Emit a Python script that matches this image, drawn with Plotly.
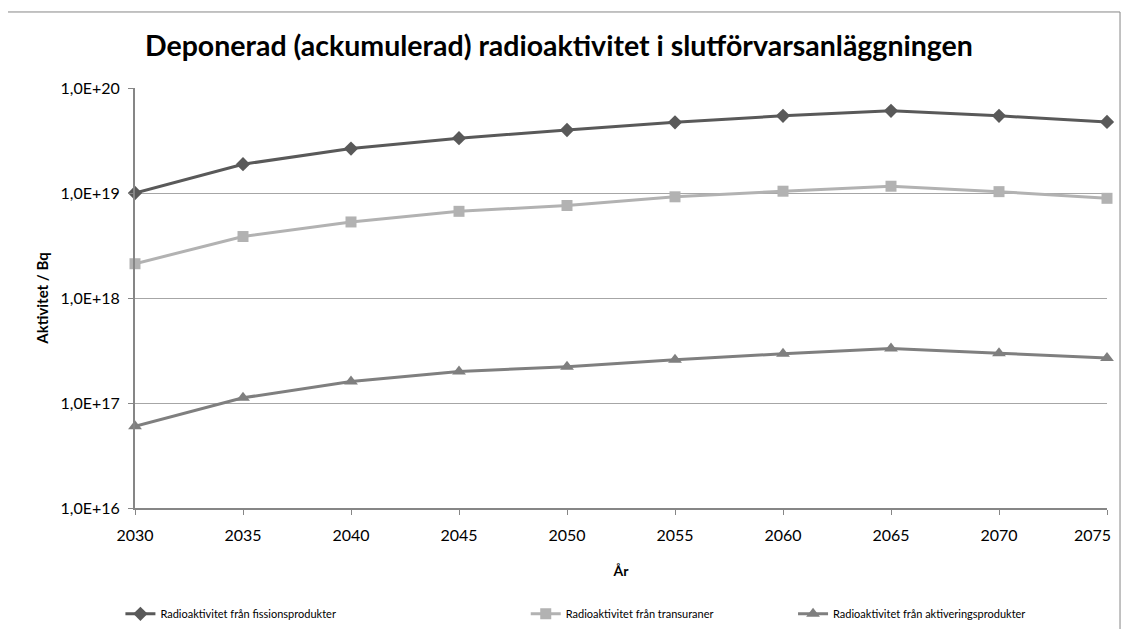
import plotly.graph_objects as go

years = [2030, 2035, 2040, 2045, 2050, 2055, 2060, 2065, 2070, 2075]
fission = [1.0e19, 1.88e19, 2.65e19, 3.33e19, 3.98e19, 4.71e19, 5.43e19, 6.06e19, 5.43e19, 4.75e19]
transuranics = [2.12e18, 3.85e18, 5.3e18, 6.69e18, 7.6e18, 9.2e18, 1.04e19, 1.16e19, 1.03e19, 8.9e18]
activation = [6.0e16, 1.12e17, 1.6e17, 2.0e17, 2.22e17, 2.58e17, 2.94e17, 3.3e17, 2.98e17, 2.69e17]

names = ["Radioaktivitet från fissionsprodukter",
         "Radioaktivitet från transuraner",
         "Radioaktivitet från aktiveringsprodukter"]
ytick_vals = [1e16, 1e17, 1e18, 1e19, 1e20]
ytick_text = ["1,0E+16", "1,0E+17", "1,0E+18", "1,0E+19", "1,0E+20"]

FONT = "Lato, Noto Sans, sans-serif"

fig = go.Figure()
series = [
    (fission, "#595959", "diamond", 11, "legend"),
    (transuranics, "#b2b2b2", "square", 11, "legend2"),
    (activation, "#7f7f7f", "triangle-up", 12, "legend3"),
]
for (vals, col, sym, sz, lg), nm in zip(series, names):
    fig.add_trace(go.Scatter(
        x=years, y=vals, name=nm, mode="lines+markers",
        line=dict(color=col, width=3),
        marker=dict(symbol=sym, size=sz, color=col),
        cliponaxis=False, legend=lg,
    ))

legend_common = dict(orientation="h", yanchor="middle", y=-0.252, xanchor="left",
                     font=dict(family=FONT, size=11, color="#000"),
                     bgcolor="rgba(0,0,0,0)", borderwidth=0)

# the last x label sits at the right edge; draw it right-aligned (as in the reference)
xtick_text = [str(y) for y in years[:-1]] + [""]

fig.update_layout(
    width=1113, height=621,
    margin=dict(l=127, r=14, t=80, b=121, autoexpand=False),
    paper_bgcolor="white", plot_bgcolor="white",
    font=dict(family=FONT, color="#000"),
    title=dict(text="<b>Deponerad (ackumulerad) radioaktivitet i slutförvarsanläggningen</b>",
               x=0.495, xanchor="center", y=0.938, yanchor="middle",
               font=dict(family=FONT, size=28.5, color="#000")),
    showlegend=True,
    legend=dict(x=-0.015, **legend_common),
    legend2=dict(x=0.402, **legend_common),
    legend3=dict(x=0.677, **legend_common),
    xaxis=dict(range=[2030, 2075], tickvals=years, ticktext=xtick_text,
               showgrid=False, zeroline=False, showline=True, linecolor="#868686", linewidth=2,
               ticks="outside", ticklen=5, tickcolor="#868686", ticklabelstandoff=7,
               ticklabeloverflow="allow",
               tickfont=dict(family=FONT, size=16, color="#000"),
               title=dict(text="<b>År</b>", font=dict(family=FONT, size=14, color="#000"), standoff=23)),
    yaxis=dict(type="log", range=[16, 20], tickvals=ytick_vals, ticktext=ytick_text,
               showgrid=True, gridcolor="#a6a6a6", gridwidth=1, zeroline=False,
               showline=True, linecolor="#868686", linewidth=2,
               ticks="outside", ticklen=5, tickcolor="#868686", ticklabelstandoff=5,
               tickfont=dict(family=FONT, size=16, color="#000"),
               title=dict(text="<b>Aktivitet / Bq</b>", font=dict(family=FONT, size=15, color="#000"), standoff=8)),
    annotations=[dict(x=years[-1], xref="x", y=0, yref="paper", text=str(years[-1]),
                      showarrow=False, xanchor="right", yanchor="middle", xshift=6, yshift=-26,
                      font=dict(family=FONT, size=16, color="#000"))],
    shapes=[dict(type="rect", xref="paper", yref="paper",
                 x0=-0.1317, x1=1.0134, y0=-0.33, y1=1.181,
                 line=dict(color="#868686", width=1), fillcolor="rgba(0,0,0,0)", layer="below")],
)

fig.write_html("out.html")
